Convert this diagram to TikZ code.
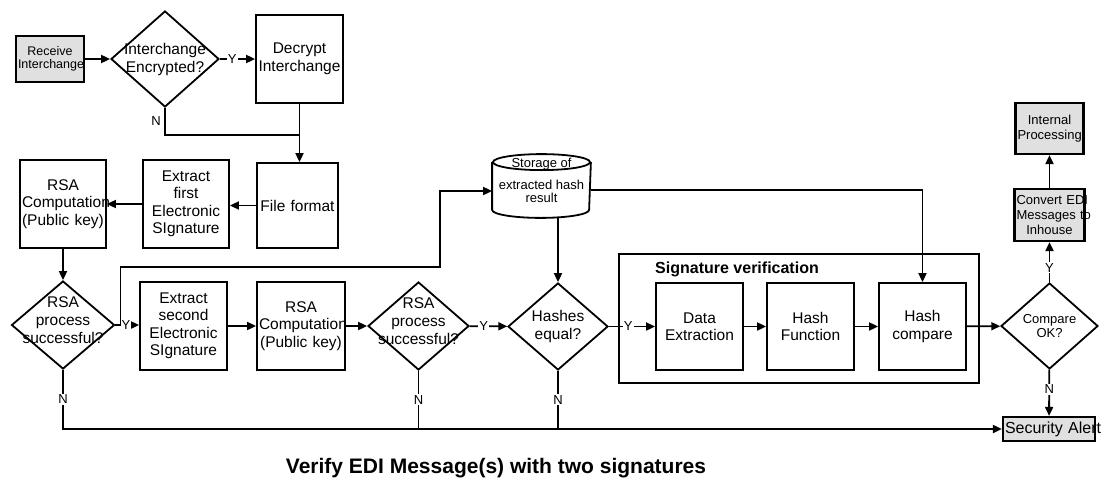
\documentclass[tikz,border=0pt]{standalone}
\usepackage{fontspec}
\setmainfont{Liberation Sans}
\usetikzlibrary{arrows.meta,calc,shapes.geometric}

\begin{document}
\begin{tikzpicture}[x=1pt,y=-1pt,line width=1.8pt,
	arr/.style={-{Triangle[length=9pt,width=8pt]}},
	box/.style={draw,rectangle,inner sep=2pt,align=center,font=\fontsize{15.5}{17.5}\selectfont},
	gbox/.style={box,fill=black!12,line width=2.2pt,font=\fontsize{13}{15}\selectfont},
	dia/.style={draw,diamond,inner sep=0pt,minimum width=103pt,minimum height=88pt},
	dtxt/.style={align=center,font=\fontsize{15.5}{18}\selectfont},
	yn/.style={fill=white,inner sep=1pt,font=\fontsize{13}{13}\selectfont}]
		%%%%% START %%%%%
		\useasboundingbox (0,0) rectangle (1103,480);
		
		\node[gbox,text width=64pt,minimum height=46pt,font=\fontsize{12.5}{13}\selectfont] (recv) at (50,59) {Receive\\Interchange};
		\node[dia,minimum width=108pt,minimum height=96pt,label={[dtxt]center:Interchange\\Encrypted?}] (encq) at (165,59) {};
		\node[box,text width=83pt,minimum height=88pt] (decr) at (299.5,59) {Decrypt\\Interchange};
		
		\node[box,text width=77pt,minimum height=85pt] (ffmt) at (297.5,205.5) {File~format};
		\node[box,text width=82pt,minimum height=88pt] (ext1) at (186,204) {Extract\\first\\Electronic\\SIgnature};
		\node[box,text width=82pt,minimum height=88pt] (rsa1) at (63,204) {RSA\\Computation\\(Public~key)};
		
		\node[dia,label={[dtxt,yshift=5pt]center:RSA\\process\\successful?}] (ok1) at (63,325) {};
		\node[box,text width=83pt,minimum height=88pt] (ext2) at (183.5,326) {Extract\\second\\Electronic\\SIgnature};
		\node[box,text width=84pt,minimum height=88pt] (rsa2) at (301,326) {RSA\\Computation\\(Public~key)};
		\node[dia,minimum width=101pt,label={[dtxt,yshift=5pt]center:RSA\\process\\successful?}] (ok2) at (418.5,326) {};
		\node[dia,minimum width=100pt,minimum height=87pt,label={[dtxt]center:Hashes\\equal?}] (heq) at (558,326.5) {};
		
		% storage cylinder
		\node[minimum width=97pt,minimum height=62pt,inner sep=0pt] (store) at (541.5,186) {};
		\draw[fill=white] (store.north west) ++(0,8) -- ($(store.south west)+(0,-8)$) arc[start angle=180,end angle=0,x radius=48.5,y radius=8] -- ($(store.north east)+(0,8)$);
		\draw ($(store.north)+(0,8)$) ellipse[x radius=48.5,y radius=8];
		\node[font=\fontsize{13}{13}\selectfont] (stt) at ($(store.north)+(0,10)$) {Storage of};
		\node[align=center,font=\fontsize{13}{13}\selectfont] (stb) at (541.5,191.5) {extracted~hash\\result};
		
		% signature verification
		\node[draw,minimum width=360pt,minimum height=129pt,inner sep=0pt] (sigv) at (799,318.5) {};
		\node[anchor=west,font=\bfseries\fontsize{16}{16}\selectfont] (sigt) at (651,269) {Signature verification};
		\node[box,text width=83pt,minimum height=87pt] (dext) at (699.5,326.5) {Data\\Extraction};
		\node[box,text width=83pt,minimum height=87pt] (hfun) at (810.5,326.5) {Hash\\Function};
		\node[box,text width=83pt,minimum height=87pt] (hcmp) at (922.5,326.5) {Hash\\compare};
		
		\node[dia,minimum width=97pt,minimum height=86pt,label={[align=center,font=\fontsize{13}{14.5}\selectfont]center:Compare\\OK?}] (cmpok) at (1049.5,326) {};
		\node[gbox,text width=66pt,minimum height=52pt] (conv) at (1049.5,215) {Convert~EDI\\Messages~to\\Inhouse};
		\node[gbox,text width=64pt,minimum height=51pt] (intp) at (1049.5,128.5) {Internal\\Processing};
		\node[gbox,text width=88pt,minimum height=24pt,font=\fontsize{16}{16}\selectfont] (alert) at (1049,429) {Security~Alert};
		
		% connectors
		\draw[arr] (recv) -- (encq);
		\draw[arr] (encq) -- node[yn,pos=0.35]{Y} (decr);
		\draw (encq.south) |- node[pos=0.25,left,font=\fontsize{13}{13}\selectfont]{N} (decr.south |- 0,135);
		\draw[arr] (decr.south) -- (decr.south |- ffmt.north);
		\draw[arr] (ffmt.west) -- (ffmt.west -| ext1.east);
		\draw[arr] (ext1.west) -- (ext1.west -| rsa1.east);
		\draw[arr] (rsa1) -- (ok1);
		\draw[arr] (ok1.east) -- node[yn,pos=0.45]{Y} (ok1.east -| ext2.west);
		\coordinate (split) at ($(ok1.east)+(5,0)$);
		\coordinate (bend) at (440,267);
		\draw[arr] (split) |- (bend) |- ([yshift=-5pt]store.west);
		\draw[arr] (ext2) -- (rsa2);
		\draw[arr] (rsa2) -- (ok2);
		\draw[arr] (ok2) -- node[yn,pos=0.37]{Y} (heq);
		\draw[arr] (heq |- store.south) -- (heq.north);
		\draw[arr] ([yshift=-4pt]store.east) -| (hcmp.north);
		\draw[arr] (heq) -- node[yn,pos=0.42]{Y} (dext);
		\draw[arr] (dext) -- (hfun);
		\draw[arr] (hfun) -- (hcmp);
		\draw[arr] (hcmp) -- (cmpok);
		\draw[arr] (cmpok) -- node[yn,pos=0.36]{Y} (conv);
		\draw[arr] (conv) -- (intp);
		\draw[arr] (cmpok) -- node[yn,pos=0.42]{N} (alert);
		\draw[arr] (ok1.south) |- node[yn,pos=0.25]{N} (alert.west);
		\draw (ok2.south) -- node[yn]{N} (ok2.south |- alert.west);
		\draw (heq.south) -- node[yn]{N} (heq.south |- alert.west);
		
		\node[anchor=base,font=\bfseries\fontsize{21}{21}\selectfont] (title) at (496,473) {Verify EDI Message(s) with two signatures};
		%%%%% END %%%%%
\end{tikzpicture}
\end{document}
